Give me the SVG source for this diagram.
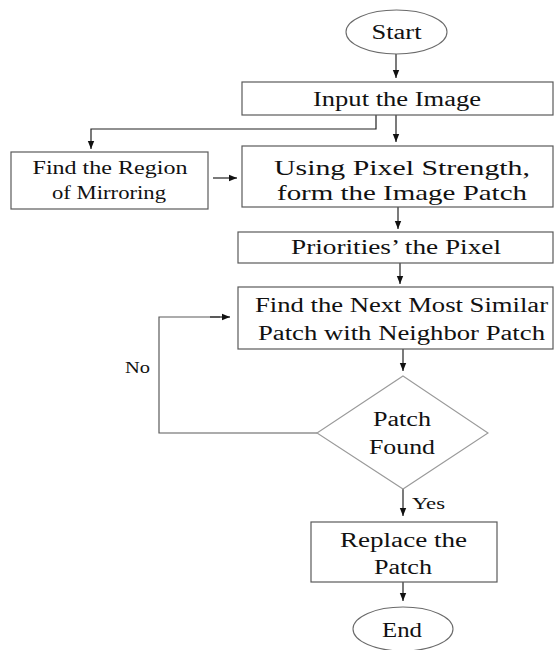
<svg xmlns="http://www.w3.org/2000/svg" width="554" height="650" viewBox="0 0 554 650">
<style>
  .box { fill: #ffffff; stroke: #5a5a5a; stroke-width: 1.2; }
  .term { fill: #ffffff; stroke: #6a6a6a; stroke-width: 1.1; }
  .dia { fill: #ffffff; stroke: #9a9a9a; stroke-width: 1.1; }
  .t { font-family: "Liberation Serif", "Times New Roman", serif; font-size: 20px; fill: #111111; text-anchor: middle; }
  .s18 { font-size: 18px; }
  .s16 { font-size: 16px; }
  .s21 { font-size: 21px; }
  .ln { fill: none; stroke: #222222; stroke-width: 1.2; }
  .lg { fill: none; stroke: #5a5a5a; stroke-width: 1.2; }
</style>
<defs>
  <marker id="ah" viewBox="0 0 8 8" refX="8" refY="4" markerWidth="8" markerHeight="8" markerUnits="userSpaceOnUse" orient="auto">
    <path d="M0,0.8 L8,4 L0,7.2 Z" fill="#111111"/>
  </marker>
</defs>
<rect width="554" height="650" fill="#ffffff"/>

<g id="connectors">
  <line class="ln" x1="396" y1="53" x2="396" y2="78" marker-end="url(#ah)"/>
  <polyline class="ln" points="376,115 376,129 91,129 91,149" marker-end="url(#ah)"/>
  <line class="ln" x1="396" y1="115" x2="396" y2="142" marker-end="url(#ah)"/>
  <line class="ln" x1="213" y1="178" x2="237" y2="178" marker-end="url(#ah)"/>
  <line class="ln" x1="398" y1="207" x2="398" y2="229" marker-end="url(#ah)"/>
  <line class="ln" x1="400" y1="263" x2="400" y2="284" marker-end="url(#ah)"/>
  <line class="ln" x1="403" y1="349" x2="403" y2="371" marker-end="url(#ah)"/>
  <polyline class="lg" points="317,433 159,433 159,317 220,317"/>
  <line class="ln" x1="210" y1="317" x2="230" y2="317" marker-end="url(#ah)"/>
  <line class="ln" x1="403" y1="489" x2="403" y2="516" marker-end="url(#ah)"/>
  <line class="ln" x1="403" y1="582" x2="403" y2="601" marker-end="url(#ah)"/>
  <text class="t s16" x="137.5" y="372.5" textLength="25" lengthAdjust="spacingAndGlyphs">No</text>
  <text class="t s16" x="428.5" y="508.5" textLength="33" lengthAdjust="spacingAndGlyphs">Yes</text>
</g>

<g id="start">
  <ellipse class="term" cx="396.5" cy="32" rx="50.5" ry="22"/>
  <text class="t" x="396.5" y="38.5" textLength="50" lengthAdjust="spacingAndGlyphs">Start</text>
</g>

<g id="input">
  <rect class="box" x="242" y="82" width="311" height="33"/>
  <text class="t" x="397" y="106" textLength="168" lengthAdjust="spacingAndGlyphs">Input the Image</text>
</g>

<g id="region">
  <rect class="box" x="11" y="152" width="197" height="57"/>
  <text class="t s18" x="110" y="174" textLength="155" lengthAdjust="spacingAndGlyphs">Find the Region</text>
  <text class="t s18" x="109" y="199" textLength="114" lengthAdjust="spacingAndGlyphs">of Mirroring</text>
</g>

<g id="patchform">
  <rect class="box" x="242" y="146" width="311" height="61"/>
  <text class="t s21" x="402" y="175" textLength="256" lengthAdjust="spacingAndGlyphs">Using Pixel Strength,</text>
  <text class="t s21" x="402" y="200" textLength="250" lengthAdjust="spacingAndGlyphs">form the Image Patch</text>
</g>

<g id="priority">
  <rect class="box" x="238" y="232" width="315" height="31"/>
  <text class="t" x="396" y="253.5" textLength="210" lengthAdjust="spacingAndGlyphs">Priorities’ the Pixel</text>
</g>

<g id="findnext">
  <rect class="box" x="238" y="287" width="315" height="62"/>
  <text class="t" x="401.5" y="311.5" textLength="293" lengthAdjust="spacingAndGlyphs">Find the Next Most Similar</text>
  <text class="t" x="401.5" y="339.5" textLength="287" lengthAdjust="spacingAndGlyphs">Patch with Neighbor Patch</text>
</g>

<g id="decision">
  <polygon class="dia" points="403,376 488,433 403,489 317,433"/>
  <text class="t" x="402" y="425.5" textLength="58" lengthAdjust="spacingAndGlyphs">Patch</text>
  <text class="t" x="402" y="453.5" textLength="66" lengthAdjust="spacingAndGlyphs">Found</text>
</g>

<g id="replace">
  <rect class="box" x="311" y="522" width="186" height="60"/>
  <text class="t" x="403.5" y="546.5" textLength="127" lengthAdjust="spacingAndGlyphs">Replace the</text>
  <text class="t" x="403" y="573.5" textLength="58" lengthAdjust="spacingAndGlyphs">Patch</text>
</g>

<g id="end">
  <ellipse class="term" cx="403" cy="629" rx="50" ry="22"/>
  <text class="t" x="402" y="636.5" textLength="40" lengthAdjust="spacingAndGlyphs">End</text>
</g>
</svg>
